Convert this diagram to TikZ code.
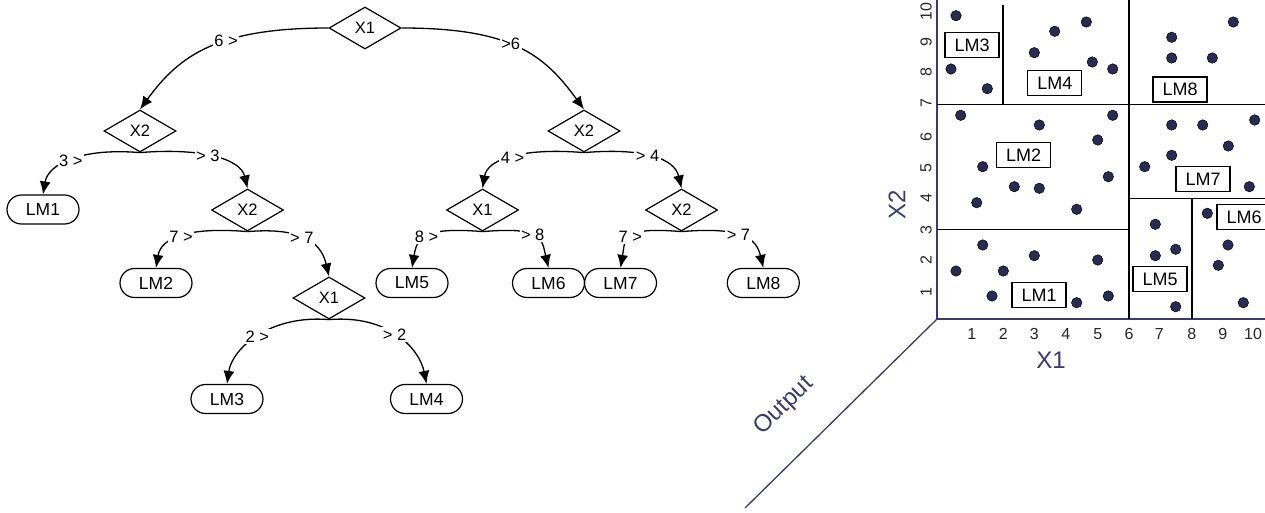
\documentclass[tikz,border=0pt]{standalone}
\usepackage{fontspec}
\setmainfont{Liberation Sans}
\usetikzlibrary{shapes.geometric,shapes.misc,arrows.meta}
\definecolor{navy}{RGB}{58,58,110}
\definecolor{dotc}{RGB}{42,42,82}
\begin{document}
\begin{tikzpicture}[x=1pt,y=-1pt,
  dec/.style={diamond,draw,line width=1.2pt,minimum width=72pt,minimum height=42pt,inner sep=0pt,font=\fontsize{16.5}{18}\selectfont},
  leaf/.style={rounded rectangle,draw,line width=1.2pt,minimum width=72pt,minimum height=29pt,inner sep=0pt,font=\fontsize{17.5}{19}\selectfont},
  edge/.style={line width=1.3pt,-{Latex[length=13pt,width=11pt]}},
  lab/.style={fill=white,inner sep=1.5pt,font=\fontsize{16.5}{18}\selectfont},
  part/.style={line width=1.3pt},
  axisline/.style={navy,line width=1.3pt},
  dotmark/.style={fill=dotc,draw=black!70!dotc,line width=0.6pt},
  lmbox/.style={draw,line width=1.2pt,fill=white,minimum width=54pt,minimum height=25pt,inner sep=0pt,font=\fontsize{18}{20}\selectfont},
  ticklab/.style={font=\fontsize{16}{18}\selectfont,text=black!85}
]
\useasboundingbox (0,0) rectangle (1265,513);

% ---------------- tree ----------------
\node[dec]  (r)   at (365,28)   {X1};
\node[dec]  (a)   at (140,131)  {X2};
\node[dec]  (b)   at (584,131)  {X2};
\node[leaf] (lm1) at (43,209.5) {LM1};
\node[dec]  (c)   at (247.5,210) {X2};
\node[dec]  (d)   at (482.5,210) {X1};
\node[dec]  (e)   at (681.5,210) {X2};
\node[leaf] (lm2) at (156,283)  {LM2};
\node[dec]  (f)   at (329,298)  {X1};
\node[leaf] (lm5) at (412,283)  {LM5};
\node[leaf] (lm6) at (548.5,283) {LM6};
\node[leaf] (lm7) at (620.5,283) {LM7};
\node[leaf] (lm8) at (763.3,283) {LM8};
\node[leaf] (lm3) at (227,399)  {LM3};
\node[leaf] (lm4) at (426.5,399) {LM4};

\draw[edge] (r.west) .. controls +(-110,0) and +(40,-55) .. (a.north) node[lab,pos=0.4] {6 >};
\draw[edge] (r.east) .. controls +(110,0) and +(-40,-55) .. (b.north) node[lab,pos=0.45] {>6};

\draw[edge] (a.south) .. controls +(-60,-5) and +(5,-30) .. (lm1.north) node[lab,pos=0.5] {3 >};
\draw[edge] (a.south) .. controls +(60,-5) and +(-7,-30) .. (c.north) node[lab,pos=0.45] {> 3};

\draw[edge] (c.south) .. controls +(-60,-5) and +(5,-30) .. (lm2.north) node[lab,pos=0.5] {7 >};
\draw[edge] (c.south) .. controls +(60,-5) and +(-7,-30) .. (f.north) node[lab,pos=0.42] {> 7};

\draw[edge] (b.south) .. controls +(-60,-5) and +(5,-30) .. (d.north) node[lab,pos=0.5] {4 >};
\draw[edge] (b.south) .. controls +(60,-5) and +(-7,-30) .. (e.north) node[lab,pos=0.45] {> 4};

\draw[edge] (d.south) .. controls +(-60,-5) and +(5,-30) .. (lm5.north) node[lab,pos=0.5] {8 >};
\draw[edge] (d.south) .. controls +(60,-5) and +(-7,-30) .. (lm6.north) node[lab,pos=0.45] {> 8};

\draw[edge] (e.south) .. controls +(-60,-5) and +(5,-30) .. (lm7.north) node[lab,pos=0.5] {7 >};
\draw[edge] (e.south) .. controls +(60,-5) and +(-7,-30) .. (lm8.north) node[lab,pos=0.45] {> 7};

\draw[edge] (f.south) .. controls +(-60,-5) and +(5,-35) .. (lm3.north) node[lab,pos=0.5] {2 >};
\draw[edge] (f.south) .. controls +(60,-5) and +(-7,-35) .. (lm4.north) node[lab,pos=0.47] {> 2};

% ---------------- plot ----------------
\draw[axisline] (937,0) -- (937,319) -- (1265,319);
\draw[axisline] (937,319) -- (745,508);

% partition lines
\draw[part] (1129,319) -- (1129,0);
\draw[part] (1003,104.3) -- (1003,5);
\draw[part] (937,104.3) -- (1265,104.3);
\draw[part] (937,229.3) -- (1129,229.3);
\draw[part] (1129,198.3) -- (1265,198.3);
\draw[part] (1192,198.3) -- (1192,319);

% data points
\foreach \px/\py in {956/15.7, 951/69, 987.3/88.7, 1054.7/31.3, 1086.3/22, 1034.3/52.7,
  1092.3/62, 1112.7/69, 1171.7/37.3, 1171.7/58, 1212.3/58, 1233.3/22,
  960.7/115.3, 1039.3/125, 1112.7/115.3, 1097.7/140, 982.7/166.7, 1171.7/125,
  1202.7/125, 1254.7/120, 1228.3/146, 1171.7/155.3, 1144.7/166.7, 1108.3/176.7,
  1014.3/186.7, 1039.3/188.3, 976.7/202.7, 1076.7/209.3, 1249.3/186.7, 1207.3/213.3,
  1155.3/224.3, 982.7/245, 1034.3/255.7, 1097.7/260, 956/271, 1003.3/271,
  992/296, 1076.7/302.7, 1108.3/296, 1155.3/255.7, 1175.7/249.3, 1175.7/306.7,
  1228/245, 1218.3/265.3, 1243.3/302.7}
  \draw[dotmark] (\px,\py) circle (5.2pt);

% region labels
\node[lmbox] (b3) at (972,45.3)   {LM3};
\node[lmbox] (b4) at (1054.8,83)  {LM4};
\node[lmbox] (b8) at (1180,89.5)  {LM8};
\node[lmbox] (b2) at (1023.5,155) {LM2};
\node[lmbox] (b7) at (1203,179)   {LM7};
\node[lmbox] (b6) at (1244,217)   {LM6};
\node[lmbox] (b5) at (1160,279.3) {LM5};
\node[lmbox] (b1) at (1039,295)   {LM1};

% tick labels
\foreach \tx/\tl in {971.7/1, 1003.3/2, 1034.3/3, 1065.7/4, 1097.7/5, 1129/6, 1159.3/7, 1191.7/8, 1222.7/9, 1253/10}
  \node[ticklab] at (\tx,334) {\tl};
\foreach \ty/\tl in {291.7/1, 260/2, 230/3, 198.3/4, 168/5, 136.7/6, 103/7, 71.7/8, 41.7/9, 11.7/10}
  \node[ticklab,rotate=90] at (926,\ty) {\tl};

% axis titles
\node[text=navy,font=\fontsize{24}{26}\selectfont] (xl) at (1051,360) {X1};
\node[text=navy,font=\fontsize{24}{26}\selectfont,rotate=90] (yl) at (897,205) {X2};
\node[text=navy,font=\fontsize{24}{26}\selectfont,rotate=44] (ol) at (784,406) {Output};
\end{tikzpicture}
\end{document}
